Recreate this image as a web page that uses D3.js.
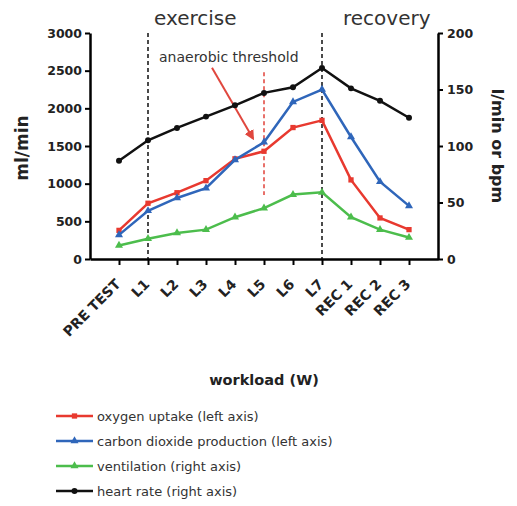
<!DOCTYPE html>
<html>
<head>
<meta charset="utf-8">
<script src="https://cdn.jsdelivr.net/npm/d3@7"></script>
<style>
  body { margin: 0; background: #fff; }
  text { font-family: "DejaVu Sans", sans-serif; }
</style>
</head>
<body>
<div id="chart"></div>
<script>
const stages = ["PRE TEST", "L1", "L2", "L3", "L4", "L5", "L6", "L7", "REC 1", "REC 2", "REC 3"];
const oxygen = [380, 740, 880, 1040, 1330, 1430, 1745, 1840, 1050, 545, 390];
const carbon = [320, 640, 810, 940, 1316, 1550, 2085, 2250, 1620, 1025, 705];
const ventilation = [12, 18, 23, 26, 37, 45, 57, 59, 37, 26, 19];
const heartRate = [87, 105, 116, 126, 136, 147, 152, 169, 151, 140, 125];
const leftTicks = [0, 500, 1000, 1500, 2000, 2500, 3000];
const rightTicks = [0, 50, 100, 150, 200];

const width = 517, height = 506;
const margin = {top: 33, right: 79, bottom: 247, left: 90};
const visWidth = width - margin.left - margin.right;
const visHeight = height - margin.top - margin.bottom;

const svg = d3.select("#chart").append("svg")
    .attr("width", width)
    .attr("height", height);

const g = svg.append("g")
  .attr("transform", `translate(${margin.left}, ${margin.top})`);

const x = d3.scalePoint().domain(stages).range([0, visWidth]).padding(1);
const yL = d3.scaleLinear().domain([0, 3000]).range([visHeight, 0]);
const yR = d3.scaleLinear().domain([0, 200]).range([visHeight, 0]);

// vertical phase markers
g.selectAll(".phase")
  .data(["L1", "L7"])
  .join("line")
    .attr("x1", d => x(d)).attr("x2", d => x(d))
    .attr("y1", 0).attr("y2", visHeight)
    .attr("stroke", "#4a4a4a")
    .attr("stroke-width", 2)
    .attr("stroke-dasharray", "4,3");

// anaerobic threshold marker
g.append("line")
  .attr("x1", x("L5")).attr("x2", x("L5"))
  .attr("y1", yL(2480)).attr("y2", yL(850))
  .attr("stroke", "#e8706a")
  .attr("stroke-width", 2)
  .attr("stroke-dasharray", "4,3");

svg.append("defs").append("marker")
  .attr("id", "arrow")
  .attr("viewBox", "0 0 10 10")
  .attr("refX", 8).attr("refY", 5)
  .attr("markerWidth", 5).attr("markerHeight", 5)
  .attr("orient", "auto")
  .append("path")
  .attr("d", "M0,0L10,5L0,10z")
  .attr("fill", "#e0473e");

g.append("line")
  .attr("x1", x("L3") + 6).attr("y1", yL(2540))
  .attr("x2", x("L5") - 11).attr("y2", yL(1600))
  .attr("stroke", "#e0473e")
  .attr("stroke-width", 2)
  .attr("marker-end", "url(#arrow)");

// axes
const axisStyle = sel => {
  sel.selectAll(".domain").attr("stroke-width", 2.5);
  sel.selectAll(".tick line").attr("stroke-width", 2);
  sel.selectAll("text")
    .attr("font-family", "DejaVu Sans, sans-serif")
    .attr("font-weight", "bold")
    .attr("font-size", 12.5)
    .attr("fill", "#222");
};

g.append("g")
  .call(d3.axisLeft(yL).tickValues(leftTicks).tickFormat(d3.format("d"))
    .tickSize(5).tickSizeOuter(0).tickPadding(3))
  .call(axisStyle);

g.append("g")
  .attr("transform", `translate(${visWidth}, 0)`)
  .call(d3.axisRight(yR).tickValues(rightTicks).tickFormat(d3.format("d"))
    .tickSize(5).tickSizeOuter(0).tickPadding(4))
  .call(axisStyle);

const xg = g.append("g")
  .attr("transform", `translate(0, ${visHeight})`)
  .call(d3.axisBottom(x).tickSize(6).tickSizeOuter(0))
  .call(axisStyle);
xg.selectAll(".tick text")
  .attr("font-size", 14)
  .attr("text-anchor", "end")
  .attr("x", 0).attr("y", 0).attr("dy", 0)
  .attr("transform", "translate(2, 26) rotate(-45)");

// series
const series = [
  {name: "oxygen uptake (left axis)", values: oxygen, scale: yL, color: "#e8392f", symbol: d3.symbolSquare},
  {name: "carbon dioxide production (left axis)", values: carbon, scale: yL, color: "#2f66ba", symbol: d3.symbolTriangle},
  {name: "ventilation (right axis)", values: ventilation, scale: yR, color: "#4cbd4c", symbol: d3.symbolTriangle},
  {name: "heart rate (right axis)", values: heartRate, scale: yR, color: "#111", symbol: d3.symbolCircle}
];

series.forEach(s => {
  const line = d3.line()
    .x((d, i) => x(stages[i]))
    .y(d => s.scale(d));
  g.append("path")
    .datum(s.values)
    .attr("fill", "none")
    .attr("stroke", s.color)
    .attr("stroke-width", 2.5)
    .attr("d", line);
  g.selectAll(null)
    .data(s.values)
    .join("path")
      .attr("transform", (d, i) => `translate(${x(stages[i])}, ${s.scale(d)})`)
      .attr("d", d3.symbol(s.symbol, 28))
      .attr("fill", s.color);
});

// annotations
g.append("text")
  .attr("x", x("L1") + 6).attr("y", -8)
  .attr("font-size", 20)
  .attr("fill", "#333")
  .text("exercise");

g.append("text")
  .attr("x", x("L7") + 21).attr("y", -8)
  .attr("font-size", 20)
  .attr("fill", "#333")
  .text("recovery");

g.append("text")
  .attr("x", x("L1") + 11).attr("y", 29)
  .attr("font-size", 14)
  .attr("fill", "#333")
  .text("anaerobic threshold");

// axis titles
svg.append("text")
  .attr("transform", `translate(28, ${margin.top + visHeight / 2 + 2}) rotate(-90)`)
  .attr("text-anchor", "middle")
  .attr("font-size", 17)
  .attr("font-weight", "bold")
  .attr("fill", "#222")
  .text("ml/min");

svg.append("text")
  .attr("transform", `translate(492, ${margin.top + visHeight / 2}) rotate(90)`)
  .attr("text-anchor", "middle")
  .attr("font-size", 16)
  .attr("font-weight", "bold")
  .attr("fill", "#222")
  .text("l/min or bpm");

svg.append("text")
  .attr("x", 264).attr("y", 385)
  .attr("text-anchor", "middle")
  .attr("font-size", 14.5)
  .attr("font-weight", "bold")
  .attr("fill", "#222")
  .text("workload (W)");

// legend
const legend = svg.append("g").attr("transform", "translate(56, 416)");
const rows = legend.selectAll("g")
  .data(series)
  .join("g")
    .attr("transform", (d, i) => `translate(0, ${i * 25})`);
rows.append("line")
  .attr("x1", 0).attr("x2", 37)
  .attr("stroke", d => d.color)
  .attr("stroke-width", 2.5);
rows.append("path")
  .attr("transform", "translate(18.5, 0)")
  .attr("d", d => d3.symbol(d.symbol, 28)())
  .attr("fill", d => d.color);
rows.append("text")
  .attr("x", 41).attr("dy", "0.35em")
  .attr("font-size", 13)
  .attr("fill", "#333")
  .text(d => d.name);
</script>
</body>
</html>
